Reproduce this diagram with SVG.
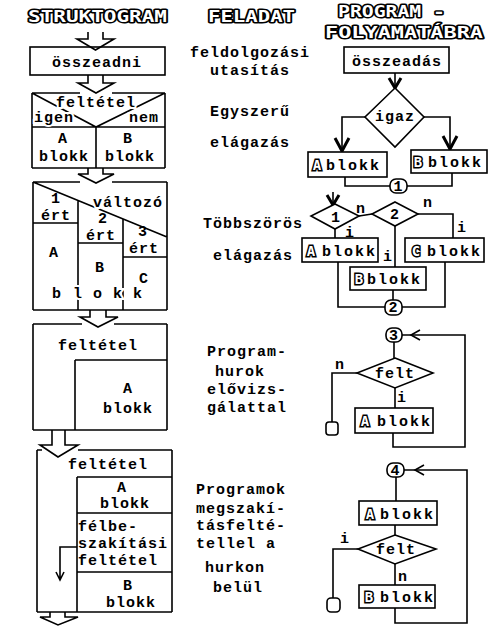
<svg xmlns="http://www.w3.org/2000/svg" width="495" height="629" viewBox="0 0 495 629">
<style>
.ln{fill:none;stroke:#000;stroke-width:1.6}
.bx{fill:#fff;stroke:#000;stroke-width:1.6}
.hd{fill:none;stroke:#000;stroke-width:3;stroke-linejoin:miter}
.t{font-family:"Liberation Mono",monospace;font-weight:bold;font-size:15px;letter-spacing:1px;fill:#000}
.m{text-anchor:middle}
.halo{stroke:#fff;stroke-width:4;paint-order:stroke}
.fb{letter-spacing:2px}
.h{font-family:"DejaVu Sans Mono",monospace;font-weight:bold;font-size:16px;fill:#fff;stroke:#000;stroke-width:3;paint-order:stroke;stroke-linejoin:round}
.ic{font-family:"DejaVu Sans Mono",monospace;font-weight:bold;font-size:14px;fill:#fff;stroke:#000;stroke-width:3;paint-order:stroke;text-anchor:middle}
</style>
<rect width="495" height="629" fill="#fff"/>

<g id="headers">
<text class="h" x="28" y="22" textLength="139" lengthAdjust="spacingAndGlyphs">STRUKTOGRAM</text>
<text class="h" x="208" y="22" textLength="87" lengthAdjust="spacingAndGlyphs">FELADAT</text>
<text class="h" x="338" y="17" textLength="107" lengthAdjust="spacingAndGlyphs">PROGRAM -</text>
<text class="h" x="325" y="38" textLength="158" lengthAdjust="spacingAndGlyphs" style="font-size:15px">FOLYAMATÁBRA</text>
</g>

<g id="struktogram-arrows">
<polyline class="ln" points="88,32 88,39 77,39 95.5,50 114,39 103,39 103,32"/>
<polyline class="ln" points="88,75 88,83 78,83 96,93 114,83 103,83 103,75"/>
<polyline class="ln" points="88,168 88,174 78,174 96,183 114,174 103,174 103,168"/>
<polyline class="ln" points="90,310 90,317 80,317 98,327 118,317 106,317 106,310"/>
<polyline class="ln" points="52,430 52,445 40,445 58,457 78,445 65,445 65,430"/>
<polyline class="ln" points="50,612 50,617 40,617 58,625 78,617 65,617 65,612"/>
</g>

<g id="s-osszeadni">
<rect class="ln" x="30" y="47" width="135" height="28"/>
<text class="t m" x="97" y="67">összeadni</text>
</g>

<g id="s-elagazas">
<path class="ln" d="M32,93 H80 M112,93 H165 M32,93 V168 M165,93 V168 M32,93 L96,127 L165,93 M32,127 H165 M96,127 V168 M32,168 H165"/>
<text class="t m halo" x="96" y="107">feltétel</text>
<text class="t halo" x="34" y="122">igen</text>
<text class="t halo" x="129" y="122">nem</text>
<text class="t m" x="63" y="143">A</text>
<text class="t m" x="64" y="161">blokk</text>
<text class="t m" x="128" y="143">B</text>
<text class="t m" x="130" y="161">blokk</text>
</g>

<g id="s-tobbszoros">
<path class="ln" d="M33,182 H80 M112,182 H167 M33,182 V310 M167,182 V310 M33,182 L167,237 M78,200 V310 M123,219 V310 M33,223 H78 M78,243 H123 M123,257 H167 M33,310 H167"/>
<text class="t m halo" x="128" y="207">változó</text>
<text class="t m" x="56" y="203">1</text>
<text class="t m" x="56" y="220">ért</text>
<text class="t m" x="103" y="223">2</text>
<text class="t m" x="101" y="240">ért</text>
<text class="t m" x="143" y="236">3</text>
<text class="t m" x="144" y="253">ért</text>
<text class="t m" x="54" y="257">A</text>
<text class="t m" x="100" y="272">B</text>
<text class="t m" x="144" y="283">C</text>
<text class="t m halo" x="57" y="298">b</text>
<text class="t m halo" x="78" y="298">l</text>
<text class="t m halo" x="98" y="298">o</text>
<text class="t m halo" x="118" y="298">k</text>
<text class="t m halo" x="138" y="298">k</text>
</g>

<g id="s-elotesztelo">
<path class="ln" d="M33,324 H82 M114,324 H167 M33,324 V430 M167,324 V430 M75,360 H167 M75,360 V430 M33,430 H167"/>
<text class="t m" x="98" y="350">feltétel</text>
<text class="t m" x="128" y="393">A</text>
<text class="t m" x="128" y="413">blokk</text>
</g>

<g id="s-megszakitas">
<path class="ln" d="M37,450 H42 M78,450 H172 M37,450 V612 M172,450 V612 M77,477 H172 M77,477 V612 M77,513 H172 M77,572 H172 M37,612 H172"/>
<path class="ln" d="M77,547 H60 V580 M56,572 L60,580 L64,572"/>
<text class="t m" x="108" y="469">feltétel</text>
<text class="t m" x="122" y="492">A</text>
<text class="t m" x="125" y="508">blokk</text>
<text class="t" x="78" y="531">félbe-</text>
<text class="t" x="78" y="548">szakítási</text>
<text class="t" x="78" y="565">feltétel</text>
<text class="t m" x="128" y="590">B</text>
<text class="t m" x="131" y="607">blokk</text>
</g>

<g id="feladat">
<text class="t" x="190" y="57">feldolgozási</text>
<text class="t" x="210" y="75">utasítás</text>
<text class="t" x="210" y="116">Egyszerű</text>
<text class="t" x="210" y="147">elágazás</text>
<text class="t" x="203" y="228">Többszörös</text>
<text class="t" x="213" y="260">elágazás</text>
<text class="t" x="207" y="356">Program-</text>
<text class="t" x="215" y="376">hurok</text>
<text class="t" x="207" y="394">elővizs-</text>
<text class="t" x="207" y="412">gálattal</text>
<text class="t" x="196" y="494">Programok</text>
<text class="t" x="196" y="513">megszakí-</text>
<text class="t" x="196" y="530">tásfelté-</text>
<text class="t" x="196" y="548">tellel a</text>
<text class="t" x="205" y="572">hurkon</text>
<text class="t" x="213" y="592">belül</text>
</g>

<g id="connectors">
<path class="ln" d="M395,73 V88"/>
<path class="hd" d="M389,78 L395,88 L401,78"/>
<path class="ln" d="M365,117 H342 V151"/>
<path class="hd" d="M335,138 L342,151 L349,138"/>
<path class="ln" d="M424,117 H450 V149"/>
<path class="hd" d="M443,136 L450,149 L457,136"/>
<path class="ln" d="M345,177 V186 H390 M452,173 V186 H407"/>
<path class="ln" d="M333,192 V205"/>
<path class="hd" d="M327,195 L333,205 L339,195"/>
<path class="ln" d="M359,216 L372,214 M418,214 H453 V238 M335,229 V238 M395,226 V267"/>
<path class="ln" d="M338,262 V307 H385 M445,262 V307 H402 M393,290 V300"/>
<path class="ln" d="M402,335 H465 V447 H393 V433 M394,342 V358 M357,373 H332 V422 M395,388 V408"/>
<path class="ln" d="M420,330 L411,335 L420,340"/>
<path class="ln" d="M404,470 H467 V623 H395 V608 M396,477 V501 M395,525 V535 M358,549 H333 V598 M395,564 V585"/>
<path class="ln" d="M424,465 L415,470 L424,475"/>
<text class="t m" x="361" y="213">n</text>
<text class="t m" x="428" y="207">n</text>
<text class="t m" x="462" y="232">i</text>
<text class="t m" x="350" y="237">i</text>
<text class="t m" x="388" y="261">i</text>
<text class="t m" x="340" y="369">n</text>
<text class="t m" x="402" y="402">i</text>
<text class="t m" x="345" y="543">i</text>
<text class="t m" x="403" y="581">n</text>
</g>

<g id="f-osszeadas">
<rect class="bx" x="344" y="47" width="105" height="26"/>
<text class="t m" x="397" y="66">összeadás</text>
</g>
<g id="f-igaz">
<polygon class="bx" points="395,88 424,117 395,147 365,117"/>
<text class="t m" x="395" y="121">igaz</text>
</g>
<g id="f-ablokk1">
<rect class="bx" x="308" y="152" width="79" height="25"/>
<text class="ic" x="317" y="170">A</text>
<text class="t fb" x="326" y="170">blokk</text>
</g>
<g id="f-bblokk1">
<rect class="bx" x="411" y="150" width="76" height="23"/>
<text class="ic" x="418" y="167">B</text>
<text class="t fb" x="428" y="167">blokk</text>
</g>
<g id="f-c1">
<rect class="bx" x="390" y="179" width="17" height="14" rx="6"/>
<text class="t m" x="398.5" y="191">1</text>
</g>
<g id="f-d1">
<polygon class="bx" points="335,204 359,216 335,229 311,216"/>
<text class="t m" x="336" y="222">1</text>
</g>
<g id="f-d2">
<polygon class="bx" points="395,202 418,214 395,226 372,214"/>
<text class="t m" x="395" y="219">2</text>
</g>
<g id="f-ablokk2">
<rect class="bx" x="302" y="238" width="76" height="24"/>
<text class="ic" x="311" y="256">A</text>
<text class="t fb" x="322" y="256">blokk</text>
</g>
<g id="f-cblokk">
<rect class="bx" x="405" y="238" width="79" height="24"/>
<text class="ic" x="416" y="256">C</text>
<text class="t fb" x="427" y="256">blokk</text>
</g>
<g id="f-bblokk2">
<rect class="bx" x="350" y="267" width="76" height="23"/>
<text class="ic" x="359" y="284">B</text>
<text class="t fb" x="367" y="284">blokk</text>
</g>
<g id="f-c2">
<rect class="bx" x="385" y="300" width="17" height="15" rx="6"/>
<text class="t m" x="393.5" y="312">2</text>
</g>
<g id="f-c3">
<rect class="bx" x="386" y="328" width="16" height="14" rx="6"/>
<text class="t m" x="394" y="340">3</text>
</g>
<g id="f-felt1">
<polygon class="bx" points="395,358 433,373 395,388 357,373"/>
<text class="t m" x="395" y="378">felt</text>
</g>
<g id="f-end1">
<rect class="bx" x="326" y="422" width="12" height="13" rx="3"/>
</g>
<g id="f-ablokk3">
<rect class="bx" x="355" y="408" width="78" height="25"/>
<text class="ic" x="365" y="426">A</text>
<text class="t fb" x="377" y="426">blokk</text>
</g>
<g id="f-c4">
<rect class="bx" x="387" y="463" width="17" height="14" rx="6"/>
<text class="t m" x="395.5" y="475">4</text>
</g>
<g id="f-ablokk4">
<rect class="bx" x="359" y="501" width="78" height="24"/>
<text class="ic" x="370" y="519">A</text>
<text class="t fb" x="380" y="519">blokk</text>
</g>
<g id="f-felt2">
<polygon class="bx" points="395,535 436,549 395,564 358,549"/>
<text class="t m" x="396" y="554">felt</text>
</g>
<g id="f-end2">
<rect class="bx" x="327" y="598" width="13" height="14" rx="4"/>
</g>
<g id="f-bblokk4">
<rect class="bx" x="359" y="585" width="76" height="23"/>
<text class="ic" x="369" y="602">B</text>
<text class="t fb" x="380" y="602">blokk</text>
</g>
</svg>
